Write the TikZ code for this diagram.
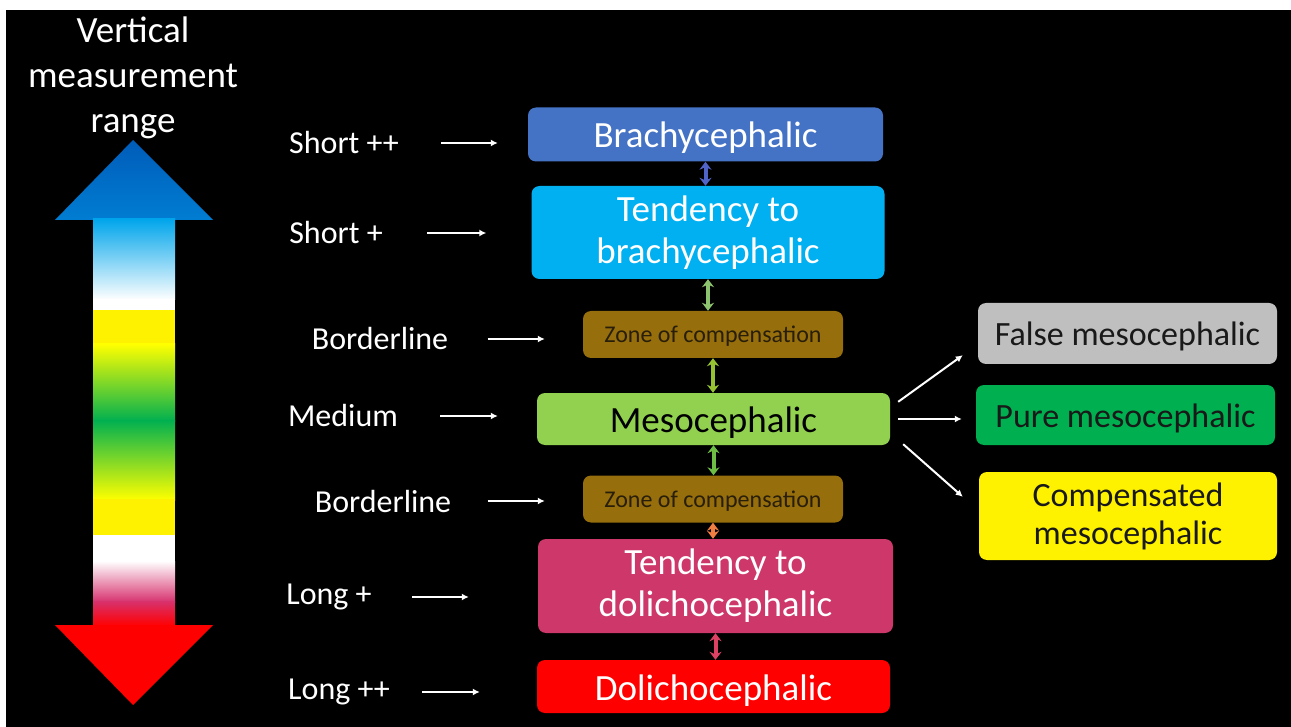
\documentclass[tikz,border=0pt]{standalone}
\usepackage{fontspec}
\setmainfont{Carlito}
\usepackage{xcolor}
\usetikzlibrary{arrows.meta,positioning}

\definecolor{brachyblue}{RGB}{68,114,196}
\definecolor{tbrachy}{RGB}{0,176,240}
\definecolor{zonebrown}{RGB}{150,110,12}
\definecolor{zonetext}{RGB}{40,30,10}
\definecolor{mesogreen}{RGB}{146,208,80}
\definecolor{tdolicho}{RGB}{205,55,105}
\definecolor{falsegrey}{RGB}{191,191,191}
\definecolor{puregreen}{RGB}{0,176,80}
\definecolor{bluetop}{RGB}{0,92,185}
\definecolor{bluehead}{RGB}{0,125,210}
\definecolor{skyblue}{RGB}{0,165,235}
\definecolor{rangegreen}{RGB}{0,176,80}
\definecolor{rangepink}{RGB}{215,50,110}
\definecolor{arra}{RGB}{80,100,200}
\definecolor{arrb}{RGB}{140,195,110}
\definecolor{arrc}{RGB}{150,195,50}
\definecolor{arrd}{RGB}{110,190,70}
\definecolor{arre}{RGB}{240,125,65}
\definecolor{arrf}{RGB}{220,65,100}

\begin{document}
\begin{tikzpicture}
  [x=1pt,y=-1pt,
   box/.style 2 args={rounded corners=8pt,minimum width=#1,minimum height=#2,inner sep=0pt},
   two/.style={align=center},
   oneline/.style 2 args={text height=#1,text depth=#2},
   lbl/.style={text=white,font=\fontsize{32}{38}\selectfont},
   main/.style={font=\fontsize{37}{42}\selectfont},
   zone/.style={box={260pt}{47pt},fill=zonebrown,text=zonetext,font=\fontsize{24}{28}\selectfont,oneline={21pt}{5pt}},
   side/.style={font=\fontsize{34}{38}\selectfont,text=black!90},
   wharrow/.style={draw=white,line width=2pt,-{Latex[length=7pt,width=7pt]}},
   minarrow/.style={line width=4pt,{Stealth[length=8pt,width=12pt]}-{Stealth[length=8pt,width=12pt]}}]

  \useasboundingbox (0,0) rectangle (1291,727);
  \fill[white] (0,0) rectangle (1291,727);
  \fill[black] (6,10) rectangle (1291,727);

  % range arrow
  \node[text=white,align=center,font=\fontsize{37}{45}\selectfont] (title) at (133,78) {Vertical\\measurement\\range};
  \shade[top color=bluetop,bottom color=bluehead] (133,140) -- (213,220) -- (55,220) -- cycle;
  \shade[top color=skyblue,bottom color=white] (93,219) rectangle (175,300);
  \fill[white] (93,299) rectangle (175,311);
  \fill[yellow] (93,310) rectangle (175,345);
  \shade[top color=yellow,bottom color=rangegreen] (93,344) rectangle (175,421);
  \shade[top color=rangegreen,bottom color=yellow] (93,420) rectangle (175,500);
  \fill[yellow] (93,499) rectangle (175,535);
  \fill[white] (93,535) rectangle (175,562);
  \shade[top color=white,bottom color=rangepink] (93,561) rectangle (175,602);
  \shade[top color=rangepink,bottom color=red] (93,601) rectangle (175,626);
  \fill[red] (133,705) -- (213,625) -- (55,625) -- cycle;

  % head shapes
  \node[box={355pt}{54pt},main,oneline={36pt}{9pt},fill=brachyblue,text=white] (b1) at (705.5,134.5) {Brachycephalic};
  \node[box={353pt}{93pt},two,main,fill=tbrachy,text=white] (b2) at (708,232.5) {Tendency to\\brachycephalic};
  \node[zone] (b3) at (713,334.5) {Zone of compensation};
  \node[box={353pt}{52pt},main,oneline={36pt}{9pt},fill=mesogreen,text=black] (b4) at (713.5,419) {Mesocephalic};
  \node[zone] (b5) at (713,499) {Zone of compensation};
  \node[box={355pt}{94pt},two,main,fill=tdolicho,text=white] (b6) at (715.5,586) {Tendency to\\dolichocephalic};
  \node[box={353pt}{53pt},main,oneline={36pt}{9pt},fill=red,text=white] (b7) at (713.5,686.5) {Dolichocephalic};

  \node[box={299pt}{61pt},side,oneline={33pt}{8pt},fill=falsegrey] (r1) at (1127.5,333.5) {False mesocephalic};
  \node[box={299pt}{60pt},side,oneline={33pt}{8pt},fill=puregreen] (r2) at (1125.5,415) {Pure mesocephalic};
  \node[box={298pt}{88pt},two,side,fill=yellow] (r3) at (1128,516) {Compensated\\mesocephalic};

  % measurement labels
  \node[lbl] (l1) at (344,143) {Short ++};
  \node[lbl] (l2) at (336,233) {Short +};
  \node[lbl] (l3) at (380,339) {Borderline};
  \node[lbl] (l4) at (343,416) {Medium};
  \node[lbl] (l5) at (383,501) {Borderline};
  \node[lbl] (l6) at (329,597) {Long +};
  \node[lbl] (l7) at (339,692) {Long ++};

  \foreach \l/\b/\s/\e in {l1/b1/39/30,l2/b2/41/45,l3/b3/36/38,l4/b4/39/39,
    l5/b5/33/38,l6/b6/37/69,l7/b7/29/57}
    \draw[wharrow,shorten <=\s pt,shorten >=\e pt] (\l.east) -- (\l.east -| \b.west);

  \foreach \from/\to/\c in {b1/b2/arra,b2/b3/arrb,b3/b4/arrc,b4/b5/arrd,b5/b6/arre,b6/b7/arrf}
    \draw[minarrow,\c] (\from.south) -- (\from.south |- \to.north);

  \draw[wharrow] ([shift={(8pt,-9pt)}]b4.north east) -- ([shift={(-15pt,9pt)}]r1.south west);
  \draw[wharrow,shorten <=8pt,shorten >=14pt] (b4.east) -- (b4.east -| r2.west);
  \draw[wharrow] ([shift={(13pt,1pt)}]b4.south east) -- ([shift={(-16pt,-25pt)}]r3.north west);
\end{tikzpicture}
\end{document}
